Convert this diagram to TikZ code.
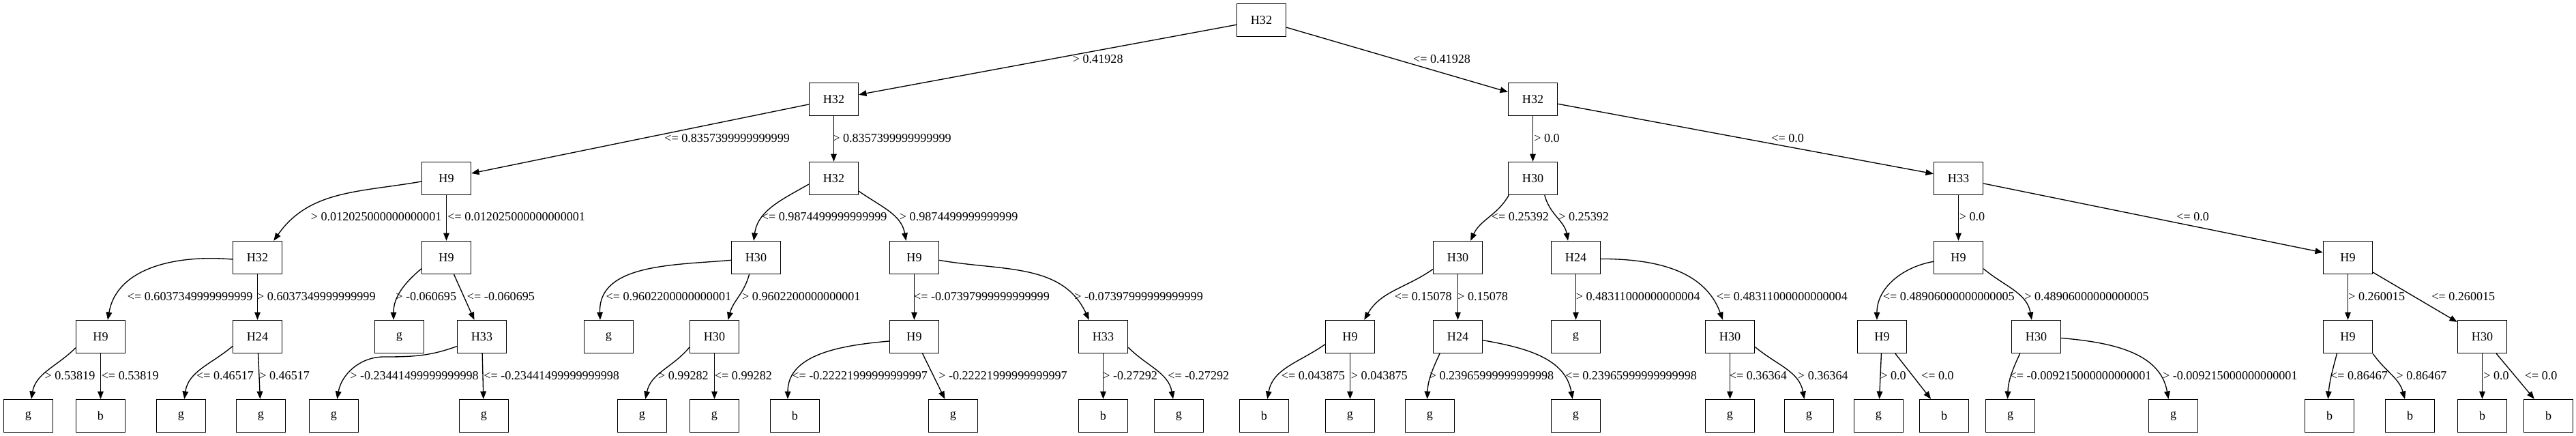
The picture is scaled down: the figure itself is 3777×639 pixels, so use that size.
\documentclass[tikz,border=0pt]{standalone}
\usepackage{fontspec}
\setmainfont{Liberation Serif}
\usetikzlibrary{arrows.meta}
\begin{document}
\begin{tikzpicture}[x=0.75pt,y=-0.75pt,
  box/.style={draw,line width=1pt,minimum width=54pt,minimum height=36pt,inner sep=0pt,font=\fontsize{13.6}{16}\selectfont},
  lbl/.style={anchor=west,inner sep=0pt,font=\fontsize{13.6}{16}\selectfont},
  conn/.style={-{Triangle[length=8.5pt,width=6.5pt]},line width=1pt}]
\useasboundingbox (0,0) rectangle (3777,639);
% level 0-2
\node[box] (r) at (1849.5,29.5) {H32};
\node[box] (a) at (1222.5,145.5) {H32};
\node[box] (nn) at (2247.5,145.5) {H32};
\node[box] (b) at (654.5,261.5) {H9};
\node[box] (h) at (1222.5,261.5) {H32};
\node[box] (o) at (2247.5,261.5) {H30};
\node[box] (u) at (2871.5,261.5) {H33};
% level 3
\node[box] (c) at (377.5,377.5) {H32};
\node[box] (f) at (654.5,377.5) {H9};
\node[box] (i) at (1108.5,377.5) {H30};
\node[box] (k) at (1340.5,377.5) {H9};
\node[box] (p) at (2137.5,377.5) {H30};
\node[box] (s) at (2310.5,377.5) {H24};
\node[box] (v) at (2871.5,377.5) {H9};
\node[box] (y) at (3442.5,377.5) {H9};
% level 4
\node[box] (d) at (147.5,493.5) {H9};
\node[box] (e) at (377.5,493.5) {H24};
\node[box] (g1) at (585.5,493.5) {g};
\node[box] (gg) at (706.5,493.5) {H33};
\node[box] (g2) at (892.5,493.5) {g};
\node[box] (j) at (1047.5,493.5) {H30};
\node[box] (l) at (1340.5,493.5) {H9};
\node[box] (m) at (1617.5,493.5) {H33};
\node[box] (q) at (1979.5,493.5) {H9};
\node[box] (rr) at (2137.5,493.5) {H24};
\node[box] (g3) at (2310.5,493.5) {g};
\node[box] (t) at (2536.5,493.5) {H30};
\node[box] (w) at (2759.5,493.5) {H9};
\node[box] (x) at (2985.5,493.5) {H30};
\node[box] (z) at (3442.5,493.5) {H9};
\node[box] (aa) at (3639.5,493.5) {H30};
% level 5
\node[box] (l1) at (41.5,609.5) {g};
\node[box] (l2) at (147.5,609.5) {b};
\node[box] (l3) at (265.5,609.5) {g};
\node[box] (l4) at (382.5,609.5) {g};
\node[box] (l5) at (489.5,609.5) {g};
\node[box] (l6) at (709.5,609.5) {g};
\node[box] (l7) at (941.5,609.5) {g};
\node[box] (l8) at (1047.5,609.5) {g};
\node[box] (l9) at (1165.5,609.5) {b};
\node[box] (l10) at (1397.5,609.5) {g};
\node[box] (l11) at (1617.5,609.5) {b};
\node[box] (l12) at (1728.5,609.5) {g};
\node[box] (l13) at (1853.5,609.5) {b};
\node[box] (l14) at (1979.5,609.5) {g};
\node[box] (l15) at (2096.5,609.5) {g};
\node[box] (l16) at (2310.5,609.5) {g};
\node[box] (l17) at (2536.5,609.5) {g};
\node[box] (l18) at (2652.5,609.5) {g};
\node[box] (l19) at (2754.5,609.5) {g};
\node[box] (l20) at (2850.5,609.5) {b};
\node[box] (l21) at (2947.5,609.5) {g};
\node[box] (l22) at (3186.5,609.5) {g};
\node[box] (l23) at (3415.5,609.5) {b};
\node[box] (l24) at (3533.5,609.5) {b};
\node[box] (l25) at (3639.5,609.5) {b};
\node[box] (l26) at (3736.5,609.5) {b};
% edges
\draw[conn] (r) -- (a);
\draw[conn] (r) -- (nn);
\draw[conn] (a) -- (b);
\draw[conn] (a) -- (h);
\draw[conn] (nn) -- (o);
\draw[conn] (nn) -- (u);
\draw[conn] (b.187) to[out=190,in=55] (c.46);
\draw[conn] (b) -- (f);
\draw[conn] (h.193) to[out=210,in=82] (i.98);
\draw[conn] (h.333) to[out=-35,in=100] (k.116);
\draw[conn] (o.215) to[out=240,in=65] (p.53);
\draw[conn] (o.305) to[out=285,in=100] (s.115);
\draw[conn] (u) -- (v);
\draw[conn] (u) -- (y);
\draw[conn] (c.184) to[out=175,in=80] (d.67);
\draw[conn] (c) -- (e);
\draw[conn] (f.204) to[out=220,in=90] (g1.109);
\draw[conn] (f) -- (gg);
\draw[conn] (i.186) to[out=185,in=92] (g2.117);
\draw[conn] (i.248) to[out=255,in=75] (j.51);
\draw[conn] (k) -- (l);
\draw[conn] (k.354) to[out=-10,in=115] (m.130);
\draw[conn] (p.205) to[out=215,in=60] (q.50);
\draw[conn] (p) -- (rr);
\draw[conn] (s) -- (g3);
\draw[conn] (s.357) to[out=0,in=110] (t.113);
\draw[conn] (v.189) to[out=190,in=90] (w.107);
\draw[conn] (v.336) to[out=-40,in=100] (x.105);
\draw[conn] (y) -- (z);
\draw[conn] (y) -- (aa);
\draw[conn] (d.204) to[out=225,in=80] (l1.80);
\draw[conn] (d) -- (l2);
\draw[conn] (e.201) to[out=220,in=82] (l3.79);
\draw[conn] (e) -- (l4);
\draw[conn] (gg.201) to[out=200,in=0] (563,523) to[out=180,in=80] (l5.79);
\draw[conn] (gg) -- (l6);
\draw[conn] (j.203) to[out=230,in=78] (l7.79);
\draw[conn] (j) -- (l8);
\draw[conn] (l.190) to[out=185,in=90] (l9.113);
\draw[conn] (l) -- (l10);
\draw[conn] (m) -- (l11);
\draw[conn] (m.337) to[out=-45,in=100] (l12.109);
\draw[conn] (q.197) to[out=215,in=80] (l13.79);
\draw[conn] (q) -- (l14);
\draw[conn] (rr.223) to[out=245,in=88] (l15.99);
\draw[conn] (rr.352) to[out=-10,in=100] (l16.101);
\draw[conn] (t) -- (l17);
\draw[conn] (t.338) to[out=-40,in=100] (l18.106);
\draw[conn] (w) -- (l19);
\draw[conn] (w) -- (l20);
\draw[conn] (x.226) to[out=245,in=88] (l21.99);
\draw[conn] (x.357) to[out=-5,in=100] (l22.106);
\draw[conn] (z.237) to[out=255,in=85] (l23.95);
\draw[conn] (z.326) to[out=-55,in=105] (l24.107);
\draw[conn] (aa) -- (l25);
\draw[conn] (aa) -- (l26);
% labels level 0-1
\node[lbl] (t01) at (1572.6,87) {> 0.41928};
\node[lbl] (t02) at (2071.8,87) {<= 0.41928};
% labels level 1-2
\node[lbl] (t03) at (974,203) {<= 0.8357399999999999};
\node[lbl] (t04) at (1221,203) {> 0.8357399999999999};
\node[lbl] (t05) at (2249,203) {> 0.0};
\node[lbl] (t06) at (2597,203) {<= 0.0};
% labels level 2-3
\node[lbl] (t07) at (455.6,318) {> 0.012025000000000001};
\node[lbl] (t08) at (656,318) {<= 0.012025000000000001};
\node[lbl] (t09) at (1116.6,318) {<= 0.9874499999999999};
\node[lbl] (t10) at (1318.7,318) {> 0.9874499999999999};
\node[lbl] (t11) at (2186.7,318) {<= 0.25392};
\node[lbl] (t12) at (2285,318) {> 0.25392};
\node[lbl] (t13) at (2872.5,318) {> 0.0};
\node[lbl] (t14) at (3191,318) {<= 0.0};
% labels level 3-4
\node[lbl] (t15) at (186.6,435) {<= 0.6037349999999999};
\node[lbl] (t16) at (376.9,435) {> 0.6037349999999999};
\node[lbl] (t17) at (580,435) {> -0.060695};
\node[lbl] (t18) at (684.7,435) {<= -0.060695};
\node[lbl] (t19) at (888.3,435) {<= 0.9602200000000001};
\node[lbl] (t20) at (1087.9,435) {> 0.9602200000000001};
\node[lbl] (t21) at (1339.8,435) {<= -0.07397999999999999};
\node[lbl] (t22) at (1575,435) {> -0.07397999999999999};
\node[lbl] (t23) at (2044.5,435) {<= 0.15078};
\node[lbl] (t24) at (2137,435) {> 0.15078};
\node[lbl] (t25) at (2310.5,435) {> 0.48311000000000004};
\node[lbl] (t26) at (2516.5,435) {<= 0.48311000000000004};
\node[lbl] (t27) at (2760.7,435) {<= 0.48906000000000005};
\node[lbl] (t28) at (2968,435) {> 0.48906000000000005};
\node[lbl] (t29) at (3443,435) {> 0.260015};
\node[lbl] (t30) at (3565,435) {<= 0.260015};
% labels level 4-5
\node[lbl] (t31) at (65.4,551) {> 0.53819};
\node[lbl] (t32) at (148.5,551) {<= 0.53819};
\node[lbl] (t33) at (287.8,551) {<= 0.46517};
\node[lbl] (t34) at (380,551) {> 0.46517};
\node[lbl] (t35) at (513,551) {> -0.23441499999999998};
\node[lbl] (t36) at (709,551) {<= -0.23441499999999998};
\node[lbl] (t37) at (964.8,551) {> 0.99282};
\node[lbl] (t38) at (1047.7,551) {<= 0.99282};
\node[lbl] (t39) at (1161,551) {<= -0.22221999999999997};
\node[lbl] (t40) at (1376,551) {> -0.22221999999999997};
\node[lbl] (t41) at (1617,551) {> -0.27292};
\node[lbl] (t42) at (1712,551) {<= -0.27292};
\node[lbl] (t43) at (1878.7,551) {<= 0.043875};
\node[lbl] (t44) at (1980.7,551) {> 0.043875};
\node[lbl] (t45) at (2095.5,551) {> 0.23965999999999998};
\node[lbl] (t46) at (2295,551) {<= 0.23965999999999998};
\node[lbl] (t47) at (2535.6,551) {<= 0.36364};
\node[lbl] (t48) at (2635.7,551) {> 0.36364};
\node[lbl] (t49) at (2757,551) {> 0.0};
\node[lbl] (t50) at (2816.8,551) {<= 0.0};
\node[lbl] (t51) at (2946.4,551) {<= -0.009215000000000001};
\node[lbl] (t52) at (3170.7,551) {> -0.009215000000000001};
\node[lbl] (t53) at (3416.8,551) {<= 0.86467};
\node[lbl] (t54) at (3513.4,551) {> 0.86467};
\node[lbl] (t55) at (3641,551) {> 0.0};
\node[lbl] (t56) at (3701.6,551) {<= 0.0};
\end{tikzpicture}
\end{document}
